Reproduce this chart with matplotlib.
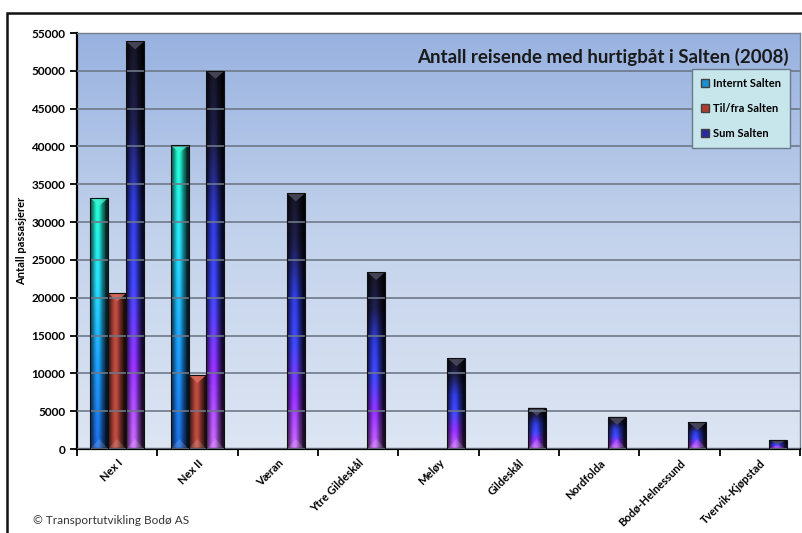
import numpy as np
import matplotlib.pyplot as plt
from matplotlib.colors import LinearSegmentedColormap
from matplotlib.patches import Polygon, Rectangle, Patch

# Antall reisende per rute, 2008
ruter = ['Nex I', 'Nex II', 'Væran', 'Ytre Gildeskål', 'Meløy',
         'Gildeskål', 'Nordfolda', 'Bodø-Helnessund', 'Tvervik-Kjøpstad']
internt = [33200, 40200, 0, 0, 0, 0, 0, 0, 0]
til_fra = [20600, 9800, 0, 0, 0, 0, 0, 0, 0]
sum_salten = [53900, 50000, 33800, 23400, 12000, 5450, 4250, 3550, 1200]
serier = ['Internt Salten', 'Til/fra Salten', 'Sum Salten']

plt.rcParams['font.family'] = ['Lato', 'DejaVu Sans']

# vertikale fargeforløp (bunn -> topp) for hver serie
grad = {
    'Internt Salten': ['#1a5fc8', '#1a8ee0', '#22c8e0', '#20e0b8'],
    'Til/fra Salten': ['#a84238', '#a84238', '#a84238', '#a84238'],
    'Sum Salten': ['#b45ee0', '#8a2cf4', '#3a40e8', '#2a36c8', '#1c1c4a', '#141422'],
}
topp = {'Internt Salten': '#40f0d0', 'Til/fra Salten': '#e07060',
        'Sum Salten': '#505060'}
legendfarge = {'Internt Salten': '#1a90d0', 'Til/fra Salten': '#b03a30',
               'Sum Salten': '#2a2aa0'}


def bar_bilde(farger, n=120):
    cmap = LinearSegmentedColormap.from_list('g', farger)
    v = cmap(np.linspace(0, 1, n))[:, :3]           # nedenfra og opp
    x = np.linspace(0, 1, 40)
    lys = 0.30 + 0.85 * np.exp(-((x - 0.42) / 0.28) ** 2)
    lys[x > 0.85] *= 0.55
    img = v[::-1, None, :] * lys[None, :, None]
    return np.clip(img, 0, 1)


fig = plt.figure(figsize=(8.03, 5.33), dpi=100)
ax = fig.add_axes([77 / 803, 84 / 533, 723 / 803, 416 / 533])

# bakgrunn med blå gradient
bg = LinearSegmentedColormap.from_list('bg', ['#dde5f3', '#c4d3ec', '#98b2e0'])
ax.imshow(np.linspace(0, 1, 200)[::-1, None], cmap=bg, aspect='auto',
          extent=(-0.5, 8.5, 0, 55000), zorder=0)

x = np.arange(len(ruter))
bredde = 0.224
data = [internt, til_fra, sum_salten]
px_per_enhet = 416 / 55000
for i, (navn, verdier) in enumerate(zip(serier, data)):
    bars = ax.bar(x + (i - 1) * bredde, verdier, bredde, color='none',
                  edgecolor='#101010', linewidth=0.8, zorder=3)
    img = bar_bilde(grad[navn])
    for b, v in zip(bars, verdier):
        if v <= 0:
            continue
        x0, x1 = b.get_x(), b.get_x() + b.get_width()
        im = ax.imshow(img, aspect='auto', extent=(x0, x1, 0, v), zorder=2,
                       interpolation='bilinear')
        im.set_clip_path(b)
        # liten pyramidetopp
        h = min(8 / px_per_enhet, v * 0.5)
        xm = (x0 + x1) / 2
        ax.add_patch(Polygon([(x0, v), (x1, v), (xm, v - h)],
                             closed=True, color=topp[navn], alpha=0.8,
                             lw=0, zorder=2.5))
        # lysere bunnfelt
        hb = min(10 / px_per_enhet, v * 0.4)
        ax.add_patch(Polygon([(x0, 0), (x1, 0), (xm, hb)], closed=True,
                             color='white', alpha=0.15, lw=0, zorder=2.5))

ax.set_xlim(-0.5, 8.5)
ax.set_ylim(0, 55000)
ax.set_yticks(np.arange(0, 55001, 5000))
ax.yaxis.grid(True, color='#6e7888', linewidth=1.2)
ax.set_axisbelow(False)
for gl in ax.get_ygridlines():
    gl.set_zorder(1)

ax.set_xticks(np.arange(-0.5, 8.6, 1.0))
ax.set_xticklabels([])
ax.set_xticks(x, minor=True)
ax.set_xticklabels(ruter, minor=True, rotation=45, ha='right', va='top',
                   rotation_mode='anchor', fontsize=8, fontweight='bold')
ax.tick_params(axis='x', which='minor', length=0, pad=6)
ax.tick_params(axis='x', which='major', length=5, width=1.3, direction='out')
ax.tick_params(axis='y', length=5, width=1.3, labelsize=8.5)
for t in ax.get_yticklabels():
    t.set_fontweight('bold')

ax.spines['left'].set_linewidth(1.6)
ax.spines['bottom'].set_linewidth(1.6)
for s in ('top', 'right'):
    ax.spines[s].set_color('#7a8494')
    ax.spines[s].set_linewidth(1.0)

ax.set_ylabel('Antall passasjerer', fontsize=8, fontweight='bold', labelpad=3)

ax.text(0.985, 0.965, 'Antall reisende med hurtigbåt i Salten (2008)',
        transform=ax.transAxes, ha='right', va='top', fontsize=13.5,
        fontweight='bold', color='#1a1a1a')

handles = [Patch(facecolor=legendfarge[s], edgecolor='#404040', label=s)
           for s in serier]
leg = ax.legend(handles=handles, loc='upper right', bbox_to_anchor=(0.986, 0.9135),
                borderaxespad=0, prop={'size': 8, 'weight': 'bold'},
                handlelength=0.7, handleheight=0.7, handletextpad=0.4,
                labelspacing=1.25, borderpad=0.8, fancybox=False, framealpha=1)
leg.get_frame().set_facecolor('#c6e6ec')
leg.get_frame().set_edgecolor('#6a7a8a')
leg.set_zorder(5)

# ramme rundt hele diagrammet
fig.patches.append(Rectangle((7.5 / 803, -0.05), 1.2, 1 - 13 / 533 + 0.05,
                             transform=fig.transFigure, fill=False,
                             edgecolor='#111111', linewidth=1.8))
fig.text(33 / 803, 1 - 521 / 533, '© Transportutvikling Bodø AS',
         fontsize=8.5, color='#333333', va='center')

fig.savefig('out.png', dpi=100)
